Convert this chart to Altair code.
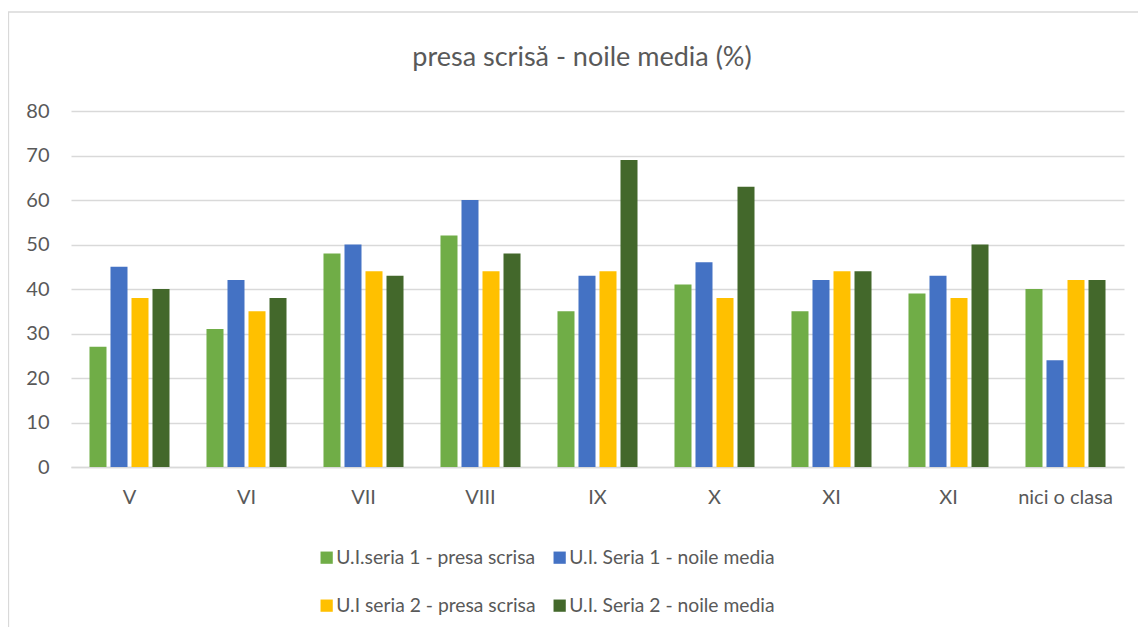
import altair as alt
import pandas as pd

categories = ["V", "VI", "VII", "VIII", "IX", "X", "XI#1", "XI#2", "nici o clasa"]
series = [
    "U.I.seria 1 - presa scrisa",
    "U.I. Seria 1 - noile media",
    "U.I seria 2 - presa scrisa",
    "U.I. Seria 2 - noile media",
]
s1_presa = [27, 31, 48, 52, 35, 41, 35, 39, 40]
s1_media = [45, 42, 50, 60, 43, 46, 42, 43, 24]
s2_presa = [38, 35, 44, 44, 44, 38, 44, 38, 42]
s2_media = [40, 38, 43, 48, 69, 63, 44, 50, 42]
colors = ["#70AD47", "#4472C4", "#FFC000", "#43682B"]
title_text = "presa scrisă - noile media (%)"

rows = []
for name, vals in zip(series, [s1_presa, s1_media, s2_presa, s2_media]):
    for c, v in zip(categories, vals):
        rows.append({"clasa": c, "serie": name, "valoare": v})
df = pd.DataFrame(rows)

FONT = "Lato"
GRAY = "#595959"
W, H = 1053, 356

bars = alt.Chart(df).mark_bar().encode(
    x=alt.X("clasa:N", sort=categories,
            scale=alt.Scale(paddingInner=0.316, paddingOuter=0.158),
            axis=alt.Axis(title=None, labelAngle=0, ticks=False,
                          labelExpr="split(datum.label, '#')[0]",
                          labelPadding=20, labelFontSize=20, labelFont=FONT,
                          labelColor=GRAY, domainColor="#D9D9D9", domainWidth=1.3)),
    xOffset=alt.XOffset("serie:N", sort=series,
                        scale=alt.Scale(paddingInner=0.19, paddingOuter=0)),
    y=alt.Y("valoare:Q",
            scale=alt.Scale(domain=[0, 80]),
            axis=alt.Axis(title=None, values=[0, 10, 20, 30, 40, 50, 60, 70, 80],
                          domain=False, ticks=False, labelPadding=22,
                          labelFontSize=20, labelFont=FONT, labelColor=GRAY,
                          gridColor="#D9D9D9", gridWidth=1.3)),
    color=alt.Color("serie:N", sort=series,
                    scale=alt.Scale(domain=series, range=colors),
                    legend=alt.Legend(title=None, orient="none", legendX=246, legendY=437,
                                      direction="horizontal", columns=2,
                                      symbolType="square", symbolSize=150,
                                      symbolStrokeWidth=0, labelFontSize=19.3,
                                      labelFont=FONT, labelColor=GRAY, labelLimit=0,
                                      labelOffset=0, rowPadding=28, columnPadding=14,
                                      padding=0)),
)

frame = alt.Chart(pd.DataFrame({"a": [0]})).mark_rect(
    fill=None, stroke="#D9D9D9", strokeWidth=1.3
).encode(
    x=alt.value(-62.5), x2=alt.value(W + 60), y=alt.value(-99), y2=alt.value(H + 200)
)

title = alt.Chart(pd.DataFrame({"t": [title_text]})).mark_text(
    font=FONT, fontSize=27, color=GRAY, align="center", baseline="alphabetic"
).encode(
    text="t:N", x=alt.value(W / 2 - 15.5), y=alt.value(-45)
)

chart = alt.layer(frame, bars, title).properties(
    width=W, height=H,
    autosize=alt.AutoSizeParams(type="none"),
    padding={"left": 63, "top": 103, "right": 14, "bottom": 160},
).configure_view(stroke=None)

chart.save("out.html", embed_options={"renderer": "svg", "actions": False})
